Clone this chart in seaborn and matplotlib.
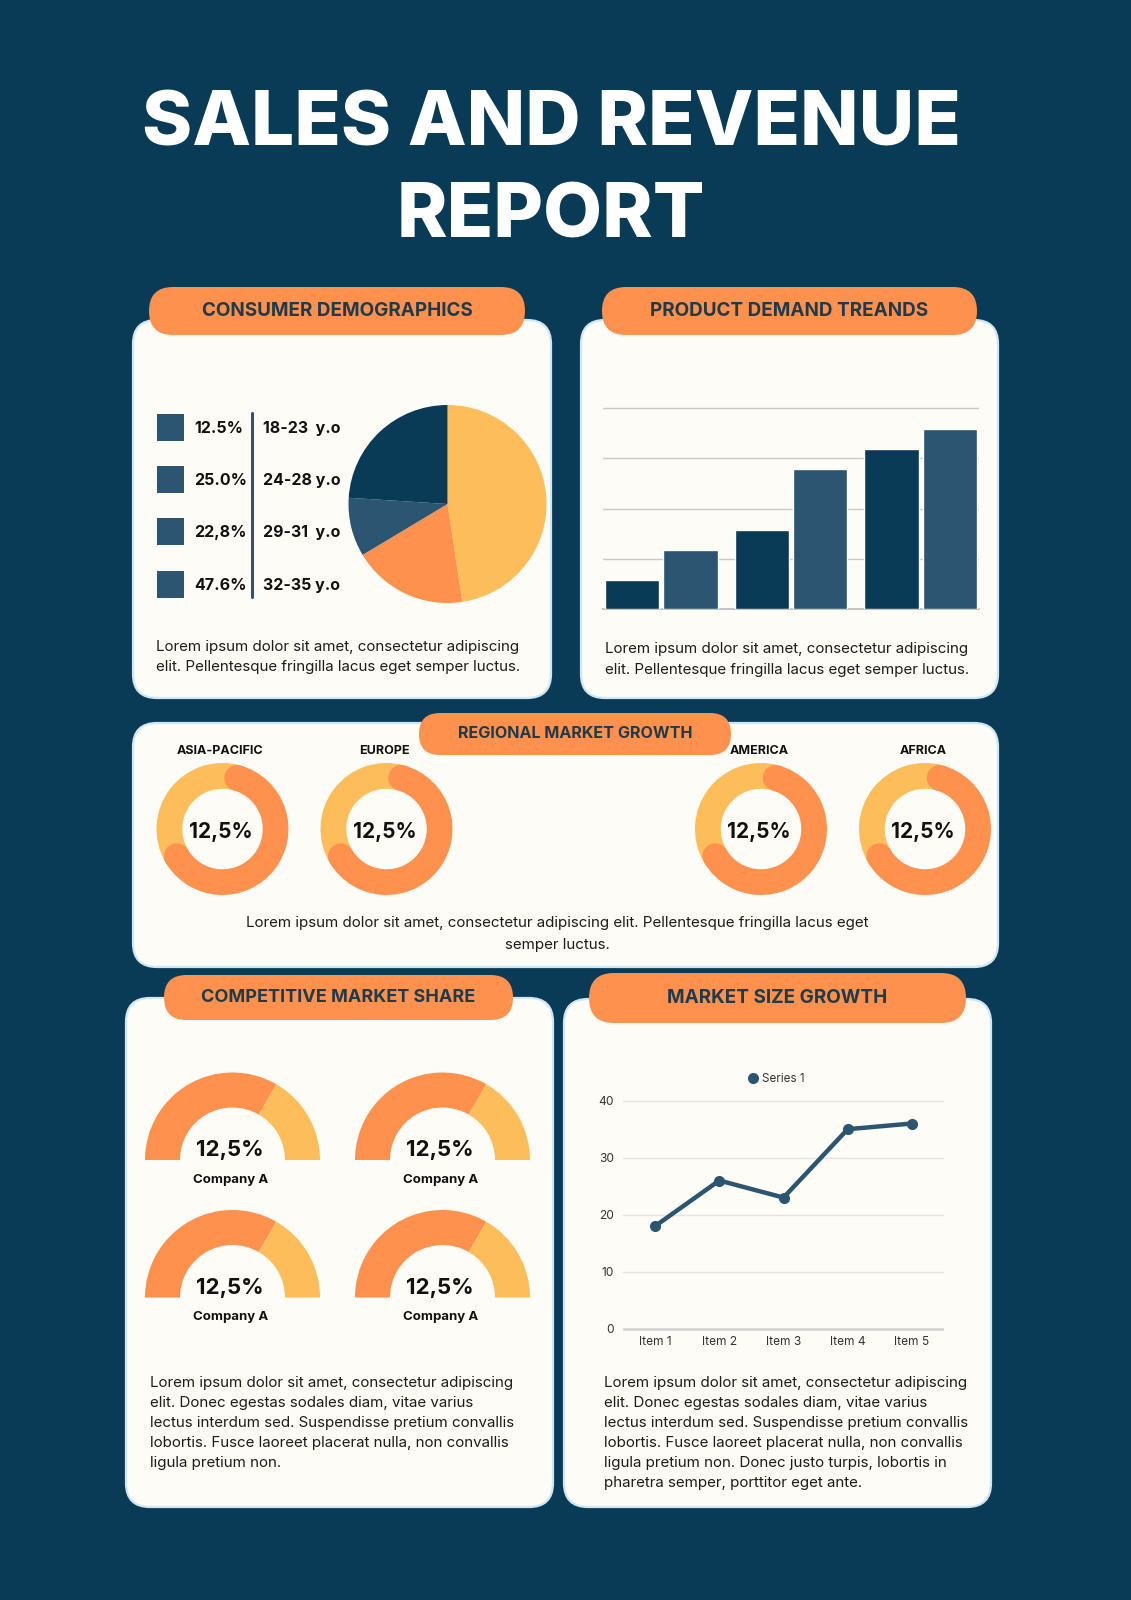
import matplotlib.pyplot as plt
import numpy as np
import pandas as pd
import seaborn as sns
from matplotlib.lines import Line2D
from matplotlib.patches import Circle, FancyBboxPatch, Rectangle

sns.set_theme(style="white")
plt.rcParams["font.family"] = ["Inter", "DejaVu Sans"]

# colours
BG = "#093b57"
DARK = "#093a56"
MID = "#2b5570"
ORANGE = "#fe914d"
YELLOW = "#fdbd5b"
CARD = "#fdfcf7"
EDGE = "#cfe7f5"
PILL_TXT = "#1f3a4b"
BODY = "#1c1c1c"

# ---- data ----
demo_pct_labels = ["12.5%", "25.0%", "22,8%", "47.6%"]
demo_ages = ["18-23  y.o", "24-28 y.o", "29-31  y.o", "32-35 y.o"]
pie_values = [47.6, 18.8, 9.6, 24.0]  # yellow, orange, mid navy, dark navy

demand_groups = ["G1", "G1", "G2", "G2", "G3", "G3"]
demand_series = ["A", "B", "A", "B", "A", "B"]
demand_values = [0.58, 1.17, 1.57, 2.79, 3.18, 3.58]

regions = ["ASIA-PACIFIC", "EUROPE", "AMERICA", "AFRICA"]
region_share = [62, 62, 62, 62]  # orange arc, % of ring
region_labels = ["12,5%", "12,5%", "12,5%", "12,5%"]

company_names = ["Company A", "Company A", "Company A", "Company A"]
company_share = [66.7, 66.7, 66.7, 66.7]  # orange part of half ring, %
company_labels = ["12,5%", "12,5%", "12,5%", "12,5%"]

items = ["Item 1", "Item 2", "Item 3", "Item 4", "Item 5"]
series1 = [18, 26, 23, 35, 36]

text_short = ["Lorem ipsum dolor sit amet, consectetur adipiscing",
              "elit. Pellentesque fringilla lacus eget semper luctus."]
text_region = ["Lorem ipsum dolor sit amet, consectetur adipiscing elit. Pellentesque fringilla lacus eget",
               "semper luctus."]
text_comp = ["Lorem ipsum dolor sit amet, consectetur adipiscing",
             "elit. Donec egestas sodales diam, vitae varius",
             "lectus interdum sed. Suspendisse pretium convallis",
             "lobortis. Fusce laoreet placerat nulla, non convallis",
             "ligula pretium non."]
text_market = text_comp[:4] + ["ligula pretium non. Donec justo turpis, lobortis in",
                               "pharetra semper, porttitor eget ante."]

# ---- canvas ----
W, H = 1131, 1600
fig = plt.figure(figsize=(W / 100, H / 100), dpi=100)
fig.patch.set_facecolor(BG)


def rect(x0, y0, x1, y1):
    return [x0 / W, 1 - y1 / H, (x1 - x0) / W, (y1 - y0) / H]


bg = fig.add_axes([0, 0, 1, 1])
bg.set_xlim(0, W)
bg.set_ylim(H, 0)
bg.axis("off")


def card(x0, y0, x1, y1):
    bg.add_patch(FancyBboxPatch((x0, y0), x1 - x0, y1 - y0,
                                boxstyle="round,pad=0,rounding_size=24",
                                fc=CARD, ec=EDGE, lw=1.6))


def pill(x0, y0, x1, y1, label, size):
    r = (y1 - y0) / 2
    bg.add_patch(FancyBboxPatch((x0, y0), x1 - x0, y1 - y0,
                                boxstyle=f"round,pad=0,rounding_size={r}",
                                fc=ORANGE, ec="none"))
    bg.text((x0 + x1) / 2, (y0 + y1) / 2 - 2, label, ha="center", va="center_baseline",
            fontsize=size, fontweight="bold", color=PILL_TXT)


def para(x, ys, lines, ha="left", size=10.9):
    for y, ln in zip(ys, lines):
        bg.text(x, y, ln, ha=ha, va="center", fontsize=size, color=BODY)


# title
bg.text(551, 145, "SALES AND REVENUE", ha="center", va="baseline",
        fontsize=55, fontweight="heavy", color="white")
bg.text(551, 237, "REPORT", ha="center", va="baseline",
        fontsize=55, fontweight="heavy", color="white")

# cards and pills
card(133, 320, 551, 698)
card(581, 320, 998, 698)
card(133, 723, 998, 967)
card(126, 998, 553, 1507)
card(564, 999, 991, 1507)
pill(149, 287, 525, 335, "CONSUMER DEMOGRAPHICS", 13.6)
pill(602, 287, 977, 335, "PRODUCT DEMAND TREANDS", 13.6)
pill(419, 713, 731, 755, "REGIONAL MARKET GROWTH", 11.6)
pill(164, 975, 513, 1020, "COMPETITIVE MARKET SHARE", 13.0)
pill(589, 973, 966, 1023, "MARKET SIZE GROWTH", 13.6)

# ---- consumer demographics ----
row_y = [427, 479, 531, 584]
for y, pct, age in zip(row_y, demo_pct_labels, demo_ages):
    bg.add_patch(Rectangle((157, y - 13.5), 27, 27, fc=MID, ec="none"))
    bg.text(194, y, pct, ha="left", va="center_baseline", fontsize=11.5,
            fontweight="bold", color="#111111")
    bg.text(263, y, age, ha="left", va="center_baseline", fontsize=11.5,
            fontweight="bold", color="#111111")
bg.plot([252, 252], [413, 597], color=MID, lw=2.2)

ax_pie = fig.add_axes(rect(348.5, 405, 546.5, 603))
ax_pie.pie(pie_values, colors=[YELLOW, ORANGE, MID, DARK], startangle=90,
           counterclock=False, wedgeprops=dict(linewidth=0))
ax_pie.set_xlim(-1, 1)
ax_pie.set_ylim(-1, 1)
ax_pie.axis("off")
para(156, [647, 667], text_short)

# ---- product demand ----
ax_bar = fig.add_axes(rect(603, 407, 979, 609.3))
demand = pd.DataFrame({"group": demand_groups, "series": demand_series,
                       "value": demand_values})
sns.barplot(data=demand, x="group", y="value", hue="series", palette=[DARK, MID],
            width=0.9, gap=0.07, saturation=1, legend=False, ax=ax_bar, zorder=3)
ax_bar.set_xlim(-0.45, 2.45)
ax_bar.set_ylim(0, 4.02)
ax_bar.set_yticks([1, 2, 3, 4])
ax_bar.yaxis.grid(True, color="#c9c9c9", lw=1)
ax_bar.set_axisbelow(True)
ax_bar.set_facecolor("none")
for s in ["top", "left", "right"]:
    ax_bar.spines[s].set_visible(False)
ax_bar.spines["bottom"].set_color("#bdbdbd")
ax_bar.set_xticks([])
ax_bar.set_yticklabels([])
ax_bar.tick_params(length=0)
ax_bar.set_xlabel("")
ax_bar.set_ylabel("")
para(605, [649, 670], text_short)

# ---- regional market growth ----
region_x = [222.5, 386.5, 761, 925]
ring_w = 0.39
for cx, name, share, lab in zip(region_x, regions, region_share, region_labels):
    ax = fig.add_axes(rect(cx - 66, 829 - 66, cx + 66, 829 + 66))
    start = 74
    ax.pie([share, 100 - share], colors=[ORANGE, YELLOW], startangle=start,
           counterclock=False, wedgeprops=dict(width=ring_w, linewidth=0))
    r_mid = 1 - ring_w / 2
    for ang in [start, start - 3.6 * share]:
        t = np.deg2rad(ang)
        ax.add_patch(Circle((r_mid * np.cos(t), r_mid * np.sin(t)), ring_w / 2,
                            fc=ORANGE, ec="none"))
    ax.set_xlim(-1, 1)
    ax.set_ylim(-1, 1)
    ax.axis("off")
    bg.text(cx - 2, 750, name, ha="center", va="center_baseline", fontsize=9,
            fontweight="bold", color="#111111")
    bg.text(cx - 2, 830, lab, ha="center", va="center_baseline", fontsize=15,
            fontweight="bold", color="#111111")
para(557, [923, 945], text_region, ha="center")

# ---- competitive market share ----
gauge_pos = [(232.5, 1160), (442.5, 1160), (232.5, 1297.5), (442.5, 1297.5)]
for (cx, cy), name, share, lab in zip(gauge_pos, company_names, company_share, company_labels):
    ax = fig.add_axes(rect(cx - 87.5, cy - 87.5, cx + 87.5, cy + 87.5))
    ax.pie([share, 100 - share, 100], colors=[ORANGE, YELLOW, "none"], startangle=180,
           counterclock=False, wedgeprops=dict(width=0.4, linewidth=0))
    ax.set_xlim(-1, 1)
    ax.set_ylim(-1, 1)
    ax.axis("off")
    bg.text(cx - 3, cy - 12, lab, ha="center", va="center_baseline", fontsize=16,
            fontweight="bold", color="#111111")
    bg.text(cx - 2, cy + 18, name, ha="center", va="center_baseline", fontsize=9.5,
            fontweight="bold", color="#111111")
para(150, [1383, 1403, 1423, 1443, 1463], text_comp)

# ---- market size growth ----
ax_line = fig.add_axes(rect(623, 1097.85, 944, 1331.55))
sns.lineplot(x=items, y=series1, sort=False, color=MID, lw=3.2, marker="o",
             markersize=8, markeredgewidth=0, ax=ax_line)
ax_line.set_xlim(-0.5, 4.5)
ax_line.set_ylim(-0.5, 40.5)
ax_line.set_yticks([0, 10, 20, 30, 40])
ax_line.yaxis.grid(True, color="#e4e4e4", lw=1)
ax_line.axhline(0, color="#d2d2d2", lw=1.8, zorder=1)
ax_line.set_axisbelow(True)
ax_line.set_facecolor("none")
for s in ax_line.spines.values():
    s.set_visible(False)
ax_line.tick_params(length=0, labelsize=8.6, labelcolor="#333333")
ax_line.tick_params(axis="y", pad=6.5)
ax_line.tick_params(axis="x", pad=3)
ax_line.set_xlabel("")
ax_line.set_ylabel("")
handle = Line2D([], [], marker="o", ls="", color=MID, markersize=8, markeredgewidth=0)
ax_line.legend([handle], ["Series 1"], loc="center", frameon=False, fontsize=8.4,
               bbox_to_anchor=(775 / W, 1 - 1079 / H), bbox_transform=fig.transFigure,
               handletextpad=0.2, handlelength=1.2, labelcolor="#333333")
para(604, [1383, 1403, 1423, 1443, 1463, 1483], text_market)

fig.savefig("out.png", dpi=100, facecolor=BG)
